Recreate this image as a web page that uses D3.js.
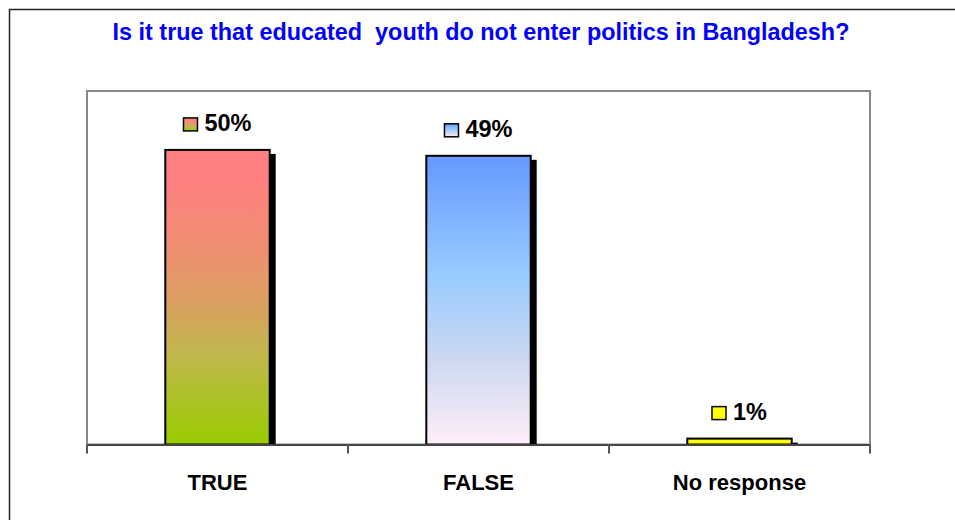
<!DOCTYPE html>
<html><head><meta charset="utf-8">
<script src="https://cdn.jsdelivr.net/npm/d3@7"></script>
<style>body{margin:0;background:#fff}svg{display:block}text{font-family:"Liberation Sans",Arial,sans-serif;font-weight:bold}</style>
</head><body><svg id="c" width="955" height="520"></svg>
<script>
const title = "Is it true that educated\u00A0 youth do not enter politics in Bangladesh?";
const categories = ["TRUE", "FALSE", "No response"];
const values = [50, 49, 1];
const valueLabels = ["50%", "49%", "1%"];
const yMax = 60;

const svg = d3.select("#c");
const M = {left: 87, right: 870, top: 91, bottom: 444.5};

// gradients
const defs = svg.append("defs");
const grads = [
  {id: "g0", stops: [[0, "#FF8080"], [0.1, "#FF8080"], [0.35, "#EE9070"], [0.52, "#DAA060"], [0.7, "#C0B84C"], [1, "#99CC00"]]},
  {id: "g1", stops: [[0, "#6699FF"], [0.42, "#99CCFF"], [0.7, "#CCD8F0"], [1, "#FFEEF8"]]},
  {id: "g2", stops: [[0, "#FFFF00"], [1, "#FFFF00"]]}
];
grads.forEach(g => {
  const lg = defs.append("linearGradient").attr("id", g.id).attr("x1", 0).attr("y1", 0).attr("x2", 0).attr("y2", 1);
  g.stops.forEach(s => lg.append("stop").attr("offset", s[0]).attr("stop-color", s[1]));
});

// outer frame
svg.append("rect").attr("x", 9.5).attr("y", 9.5).attr("width", 1000).attr("height", 600)
  .attr("fill", "none").attr("stroke", "#222").attr("stroke-width", 1.5);

// title
svg.append("text").attr("x", 481).attr("y", 40).attr("text-anchor", "middle")
  .attr("font-size", 23.4).attr("fill", "#0000FF").text(title);

const x = d3.scaleBand().domain(categories).range([M.left, M.right]).paddingInner(0).paddingOuter(0);
const y = d3.scaleLinear().domain([0, yMax]).range([M.bottom, M.top]);
const bw = x.bandwidth() * 0.4;

// plot area border
svg.append("rect").attr("x", M.left).attr("y", M.top).attr("width", M.right - M.left).attr("height", M.bottom - M.top)
  .attr("fill", "#fff").attr("stroke", "#888").attr("stroke-width", 2);

const data = categories.map((c, i) => ({c, v: values[i], lab: valueLabels[i], g: "url(#g" + i + ")"}));

// shadows
svg.selectAll(".sh").data(data).join("rect").attr("class", "sh")
  .attr("x", d => x(d.c) + x.bandwidth() / 2 - bw / 2 + 6)
  .attr("y", d => y(d.v) + 4)
  .attr("width", bw)
  .attr("height", d => Math.max(0, M.bottom - y(d.v) - 4))
  .attr("fill", "#000");

// bars
svg.selectAll(".bar").data(data).join("rect").attr("class", "bar")
  .attr("x", d => x(d.c) + x.bandwidth() / 2 - bw / 2)
  .attr("y", d => y(d.v))
  .attr("width", bw)
  .attr("height", d => M.bottom - y(d.v))
  .attr("fill", d => d.g).attr("stroke", "#000").attr("stroke-width", 2);

// axis
const ax = svg.append("g").attr("transform", `translate(0,${M.bottom})`)
  .call(d3.axisBottom(x).tickSize(0).tickFormat(""));
ax.select(".domain").attr("stroke", "#444").attr("stroke-width", 2);
const tickPos = categories.map(c => x(c)).concat([M.right]);
svg.selectAll(".tk").data(tickPos).join("line").attr("class", "tk")
  .attr("x1", d => d).attr("x2", d => d).attr("y1", M.bottom).attr("y2", M.bottom + 9)
  .attr("stroke", "#555").attr("stroke-width", 2);

// category labels
svg.selectAll(".cl").data(data).join("text").attr("class", "cl")
  .attr("x", d => x(d.c) + x.bandwidth() / 2).attr("y", 490)
  .attr("text-anchor", "middle").attr("font-size", 22).attr("fill", "#000").text(d => d.c);

// value labels with legend key
const lg = svg.selectAll(".vl").data(data).join("g").attr("class", "vl");
lg.each(function(d) {
  const g = d3.select(this);
  const base = y(d.v) - 19;
  const t = g.append("text").attr("y", base).attr("font-size", 23.5).attr("fill", "#000").text(d.lab);
  const tw = t.node().getComputedTextLength();
  const sq = 14, gap = 7;
  const total = sq + gap + tw;
  const cx = x(d.c) + x.bandwidth() / 2;
  const left = cx - total / 2;
  g.append("rect").attr("x", left).attr("y", base - 13).attr("width", sq).attr("height", 13)
    .attr("fill", d.g).attr("stroke", "#000").attr("stroke-width", 1.5);
  t.attr("x", left + sq + gap);
});
</script></body></html>
